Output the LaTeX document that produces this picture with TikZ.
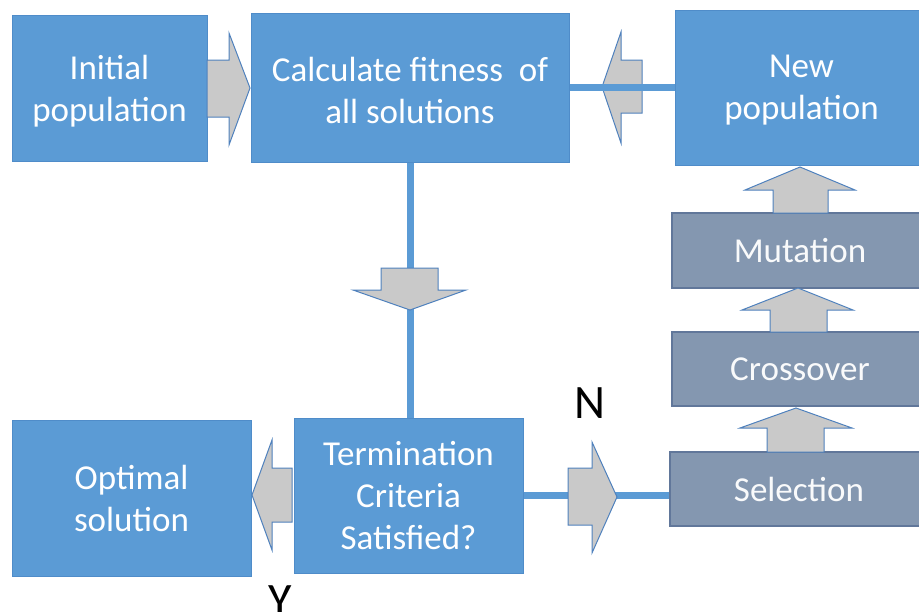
\documentclass[tikz,border=0pt]{standalone}
\usepackage{fontspec}
\setmainfont{Carlito}
\definecolor{boxblue}{HTML}{5B9BD5}
\definecolor{boxedge}{HTML}{4F8CC9}
\definecolor{stepfill}{HTML}{8497B0}
\definecolor{stepedge}{HTML}{61779A}
\definecolor{arrowfill}{HTML}{C9C9C9}
\definecolor{arrowedge}{HTML}{4F81BD}
\begin{document}
\begin{tikzpicture}[x=1pt,y=-1pt,
  boxtext/.style={align=center,inner sep=0pt,font=\fontsize{35}{42}\selectfont},
  bluebox/.style={boxtext,draw=boxedge,fill=boxblue,line width=1pt,text=white},
  stepbox/.style={boxtext,draw=stepedge,fill=stepfill,line width=1.2pt,text=white!95!stepfill},
  lowtext/.style={label={[boxtext,text=white,yshift=-3pt]center:#1}},
  link/.style={draw=boxblue,line width=7pt},
  blockarrow/.style={draw=arrowedge,fill=arrowfill,line width=1pt,line join=miter},
  yn/.style={font=\fontsize{48}{48}\selectfont,inner sep=0pt,anchor=base}
]
\useasboundingbox (0,0) rectangle (919,611);
\clip (0,0) rectangle (919,611);

% process boxes (the top row sets its text slightly low)
\node[bluebox,minimum width=195pt,minimum height=146pt,lowtext={Initial\\population}] (init) at (109.5,88) {};
\node[bluebox,minimum width=318pt,minimum height=149pt,lowtext={Calculate fitness\ \ of\\all solutions}] (calc) at (410,87.5) {};
\node[bluebox,minimum width=253pt,minimum height=155pt,lowtext={New\\population}] (newpop) at (801.5,87.5) {};
\node[stepbox,minimum width=256pt,minimum height=75pt] (mut) at (800,250.5) {Mutation};
\node[stepbox,minimum width=256pt,minimum height=74pt] (cross) at (800,369) {Crossover};
\node[stepbox,minimum width=258pt,minimum height=74pt] (sel) at (799,489) {Selection};
\node[bluebox,minimum width=239pt,minimum height=156pt] (opt) at (131.5,498) {Optimal\\solution};
\node[bluebox,minimum width=229pt,minimum height=155pt] (term) at (408.5,495.5) {Termination\\Criteria\\Satisfied?};

% new population feeds back into the fitness step
\draw[blockarrow] (602,87) -- (621,32) -- (621,60) -- (642,60) -- (642,113) -- (621,113) -- (621,143) -- cycle;

% connecting lines
\draw[link] (calc.east) -- (newpop.west);
\draw[link] (calc.south) -- (calc.south |- term.north);
\draw[link] (term.east) -- (term.east -| sel.west);

% block arrows
\draw[blockarrow] (207,60) -- (229,60) -- (229,33) -- (250,88) -- (229,145) -- (229,117) -- (207,117) -- cycle;
\draw[blockarrow] (381,268) -- (438,268) -- (438,290) -- (466,290) -- (410,310) -- (353,290) -- (381,290) -- cycle;
\draw[blockarrow] (252,495) -- (272,440) -- (272,468) -- (292,468) -- (292,522) -- (272,522) -- (272,550) -- cycle;
\draw[blockarrow] (568,468) -- (592,468) -- (592,442) -- (617,497) -- (592,553) -- (592,525) -- (568,525) -- cycle;
\draw[blockarrow] (773,213) -- (773,190) -- (745,190) -- (800,167) -- (855,190) -- (828,190) -- (828,213) -- cycle;
\draw[blockarrow] (770,332) -- (770,310) -- (742,310) -- (798,288) -- (853,310) -- (827,310) -- (827,332) -- cycle;
\draw[blockarrow] (767,452) -- (767,428) -- (740,428) -- (796,408) -- (852,428) -- (824,428) -- (824,452) -- cycle;

% decision labels
\node[yn] (nlabel) at (590,418) {N};
\node[yn] (ylabel) at (280,616) {Y};
\end{tikzpicture}
\end{document}
